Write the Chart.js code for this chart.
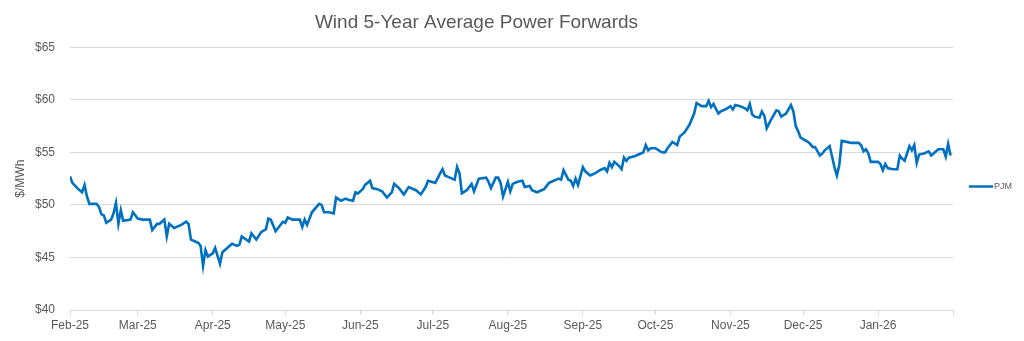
<!DOCTYPE html>
<html>
<head>
<meta charset="utf-8">
<script src="https://cdn.jsdelivr.net/npm/chart.js@4/dist/chart.umd.min.js"></script>
<style>
  html, body { margin: 0; padding: 0; background: #ffffff; }
  #wrap { width: 1024px; height: 341px; }
</style>
</head>
<body>
<div id="wrap"><canvas id="chart" width="1024" height="341"></canvas></div>
<script>
// Trade dates and PJM wind 5-year average forward prices ($/MWh)
const dates = [
  "2025-02-01","2025-02-02","2025-02-04","2025-02-06","2025-02-07","2025-02-08","2025-02-09","2025-02-12","2025-02-13","2025-02-14",
  "2025-02-15","2025-02-16","2025-02-18","2025-02-19","2025-02-20","2025-02-21","2025-02-22","2025-02-23","2025-02-26","2025-02-27",
  "2025-03-01","2025-03-03","2025-03-06","2025-03-07","2025-03-09","2025-03-10","2025-03-12","2025-03-13","2025-03-14","2025-03-16",
  "2025-03-19","2025-03-21","2025-03-22","2025-03-23","2025-03-25","2025-03-26","2025-03-27","2025-03-28","2025-03-29","2025-03-30",
  "2025-04-01","2025-04-02","2025-04-04","2025-04-05","2025-04-07","2025-04-09","2025-04-11","2025-04-12","2025-04-13","2025-04-16",
  "2025-04-17","2025-04-19","2025-04-21","2025-04-23","2025-04-24","2025-04-25","2025-04-27","2025-04-30",
  "2025-05-01","2025-05-02","2025-05-04","2025-05-07","2025-05-08","2025-05-09","2025-05-10","2025-05-12","2025-05-15","2025-05-16",
  "2025-05-17","2025-05-19","2025-05-21","2025-05-22","2025-05-24","2025-05-26","2025-05-27","2025-05-29","2025-05-30","2025-05-31",
  "2025-06-02","2025-06-03","2025-06-05","2025-06-06","2025-06-08","2025-06-10","2025-06-12","2025-06-14","2025-06-15","2025-06-17",
  "2025-06-19","2025-06-21","2025-06-24","2025-06-26","2025-06-28","2025-06-29",
  "2025-07-02","2025-07-04","2025-07-05","2025-07-06","2025-07-08","2025-07-10","2025-07-11","2025-07-12","2025-07-13","2025-07-15",
  "2025-07-17","2025-07-18","2025-07-20","2025-07-23","2025-07-24","2025-07-25","2025-07-27","2025-07-28","2025-07-29","2025-07-30",
  "2025-08-01","2025-08-02","2025-08-03","2025-08-05","2025-08-07","2025-08-08","2025-08-10","2025-08-11","2025-08-13","2025-08-15",
  "2025-08-16","2025-08-18","2025-08-20","2025-08-22","2025-08-23","2025-08-24","2025-08-26","2025-08-27","2025-08-28","2025-08-29",
  "2025-08-30",
  "2025-09-01","2025-09-02","2025-09-04","2025-09-06","2025-09-08","2025-09-10","2025-09-11","2025-09-12","2025-09-13","2025-09-14",
  "2025-09-16","2025-09-17","2025-09-18","2025-09-19","2025-09-20","2025-09-22","2025-09-24","2025-09-26","2025-09-27","2025-09-28",
  "2025-09-29",
  "2025-10-01","2025-10-03","2025-10-04","2025-10-05","2025-10-06","2025-10-08","2025-10-10","2025-10-11","2025-10-13","2025-10-15",
  "2025-10-17","2025-10-18","2025-10-20","2025-10-22","2025-10-23","2025-10-24","2025-10-25","2025-10-27","2025-10-28","2025-10-30",
  "2025-11-01","2025-11-02","2025-11-03","2025-11-05","2025-11-07","2025-11-08","2025-11-09","2025-11-10","2025-11-11","2025-11-13",
  "2025-11-14","2025-11-15","2025-11-16","2025-11-18","2025-11-20","2025-11-21","2025-11-22","2025-11-24","2025-11-25","2025-11-26",
  "2025-11-27","2025-11-28","2025-11-29","2025-11-30",
  "2025-12-03","2025-12-04","2025-12-05","2025-12-06","2025-12-07","2025-12-08","2025-12-09","2025-12-10","2025-12-12","2025-12-13",
  "2025-12-14","2025-12-15","2025-12-16","2025-12-17","2025-12-19","2025-12-21","2025-12-24","2025-12-25","2025-12-26","2025-12-27",
  "2025-12-28","2025-12-29","2025-12-30",
  "2026-01-01","2026-01-02","2026-01-03","2026-01-04","2026-01-05","2026-01-07","2026-01-09","2026-01-10","2026-01-11","2026-01-12",
  "2026-01-13","2026-01-14","2026-01-15","2026-01-16","2026-01-17","2026-01-18","2026-01-20","2026-01-22","2026-01-23","2026-01-25",
  "2026-01-26","2026-01-28","2026-01-29","2026-01-30","2026-01-31"
];

const pjm = [
  52.7, 52.1, 51.6, 51.2, 51.9, 50.8, 50.1, 50.1, 49.8, 49.1,
  49.0, 48.3, 48.6, 49.2, 50.2, 48.2, 49.5, 48.5, 48.6, 49.3,
  48.7, 48.6, 48.6, 47.6, 48.2, 48.2, 48.6, 47.0, 48.2, 47.8,
  48.1, 48.4, 48.2, 46.7, 46.5, 46.4, 46.1, 44.2, 45.7, 45.1,
  45.4, 45.9, 44.4, 45.5, 45.9, 46.3, 46.1, 46.2, 47.0, 46.5,
  47.3, 46.7, 47.4, 47.7, 48.7, 48.6, 47.5, 48.4,
  48.3, 48.8, 48.6, 48.6, 47.9, 48.6, 48.1, 49.3, 50.1, 50.0,
  49.3, 49.3, 49.2, 50.7, 50.4, 50.6, 50.5, 50.4, 51.2, 51.1,
  51.5, 51.9, 52.3, 51.6, 51.5, 51.3, 50.7, 51.2, 52.0, 51.6,
  51.0, 51.7, 51.4, 51.0, 51.7, 52.3,
  52.1, 53.0, 53.4, 52.8, 52.6, 52.4, 53.6, 53.0, 51.1, 51.4,
  52.0, 51.3, 52.5, 52.6, 52.2, 51.6, 52.6, 52.6, 52.1, 50.8,
  52.2, 51.3, 52.0, 52.2, 52.3, 51.7, 51.8, 51.4, 51.2, 51.4,
  51.5, 52.1, 52.3, 52.5, 52.4, 53.3, 52.4, 52.3, 51.8, 52.5,
  51.9,
  53.6, 53.2, 52.8, 53.0, 53.3, 53.5, 53.2, 54.0, 53.6, 54.1,
  53.7, 53.4, 54.5, 54.2, 54.5, 54.6, 54.8, 55.0, 55.7, 55.2,
  55.4,
  55.4, 55.1, 55.0, 55.0, 55.4, 56.0, 55.7, 56.5, 56.9, 57.6,
  58.7, 59.7, 59.4, 59.4, 59.9, 59.3, 59.6, 58.7, 58.9, 59.1,
  59.4, 59.1, 59.5, 59.4, 59.2, 59.0, 59.6, 58.6, 58.4, 58.3,
  58.9, 58.5, 57.3, 58.2, 59.0, 58.9, 58.4, 58.7, 59.1, 59.5,
  58.9, 57.5, 57.0, 56.4,
  56.0, 55.8, 55.5, 55.5, 55.1, 54.7, 54.9, 55.2, 55.6, 54.6,
  53.6, 52.8, 53.8, 56.1, 56.0, 55.9, 55.9, 55.7, 55.1, 55.3,
  54.9, 54.1, 54.1,
  54.1, 53.9, 53.3, 53.9, 53.5, 53.4, 53.4, 54.7, 54.4, 54.2,
  54.9, 55.6, 55.2, 55.7, 54.0, 54.8, 54.9, 55.1, 54.7, 55.1,
  55.3, 55.3, 54.6, 55.8, 54.7
];

// Month-start ticks along the date axis
const monthStarts = [
  "2025-02-01","2025-03-01","2025-04-01","2025-05-01","2025-06-01","2025-07-01",
  "2025-08-01","2025-09-01","2025-10-01","2025-11-01","2025-12-01","2026-01-01","2026-02-01"
];
const monthLabels = [
  "Feb-25","Mar-25","Apr-25","May-25","Jun-25","Jul-25",
  "Aug-25","Sep-25","Oct-25","Nov-25","Dec-25","Jan-26",""
];
const yTicks = [40, 45, 50, 55, 60, 65];

const seriesName = "PJM";
const lineColor = "#0070C0";
const textColor = "#595959";
const gridColor = "#d9d9d9";
const fontFamily = "'Liberation Sans', Arial, sans-serif";

// Day offsets from the first month start, so the axis can be a plain linear scale
const origin = Date.parse(monthStarts[0] + "T00:00:00Z");
const dayOf = s => Math.round((Date.parse(s + "T00:00:00Z") - origin) / 86400000);
const tickDays = monthStarts.map(dayOf);
const points = dates.map((d, i) => ({ x: dayOf(d), y: pjm[i] }));

// Legend drawn at the right of the plot: short line sample plus series name
const sideLegend = {
  id: "sideLegend",
  afterDraw(chart) {
    const { ctx, chartArea } = chart;
    const ds = chart.data.datasets[0];
    const y = 186.5;
    const x0 = chartArea.right + 16;
    ctx.save();
    ctx.strokeStyle = ds.borderColor;
    ctx.lineWidth = 2.5;
    ctx.beginPath();
    ctx.moveTo(x0, y);
    ctx.lineTo(x0 + 24, y);
    ctx.stroke();
    ctx.fillStyle = textColor;
    ctx.font = "9px " + fontFamily;
    ctx.textBaseline = "middle";
    ctx.textAlign = "left";
    ctx.fillText(ds.label, x0 + 25, y + 0.5);
    ctx.restore();
  }
};

new Chart(document.getElementById("chart"), {
  type: "line",
  data: {
    datasets: [{
      label: seriesName,
      data: points,
      borderColor: lineColor,
      borderWidth: 2.6,
      pointRadius: 0,
      tension: 0,
      fill: false
    }]
  },
  options: {
    responsive: false,
    animation: false,
    layout: { padding: { left: 0, right: 71, top: 0, bottom: 0 } },
    plugins: {
      legend: { display: false },
      tooltip: { enabled: false },
      title: {
        display: true,
        text: "Wind 5-Year Average Power Forwards",
        color: textColor,
        font: { family: fontFamily, size: 19, weight: "normal" },
        padding: { top: 11, bottom: 13.5 }
      }
    },
    scales: {
      x: {
        type: "linear",
        min: tickDays[0],
        max: tickDays[tickDays.length - 1],
        afterBuildTicks(scale) {
          scale.ticks = tickDays.map(v => ({ value: v }));
        },
        afterFit(scale) { scale.height = 31; },
        ticks: {
          autoSkip: false,
          maxRotation: 0,
          minRotation: 0,
          padding: 3,
          color: textColor,
          font: { family: fontFamily, size: 12 },
          callback: (v, i) => monthLabels[i]
        },
        grid: {
          drawOnChartArea: false,
          drawTicks: true,
          tickLength: 5,
          color: gridColor
        },
        border: { display: true, color: gridColor }
      },
      y: {
        min: yTicks[0],
        max: yTicks[yTicks.length - 1],
        afterBuildTicks(scale) {
          scale.ticks = yTicks.map(v => ({ value: v }));
        },
        afterFit(scale) { scale.width = 70; },
        ticks: {
          padding: 15,
          color: textColor,
          font: { family: fontFamily, size: 12 },
          callback: v => "$" + v
        },
        grid: { color: gridColor, drawTicks: false, lineWidth: 1 },
        border: { display: false },
        title: {
          display: true,
          text: "$/MWh",
          color: textColor,
          font: { family: fontFamily, size: 12 },
          padding: { top: 13, bottom: 0 }
        }
      }
    }
  },
  plugins: [sideLegend]
});
</script>
</body>
</html>
